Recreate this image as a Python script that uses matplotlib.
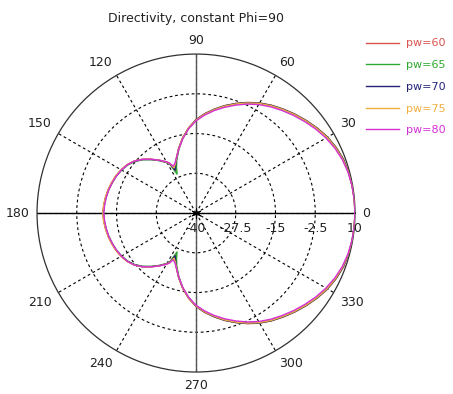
import numpy as np
import matplotlib
matplotlib.use("Agg")
import matplotlib.pyplot as plt

# pattern, upper half (0..180 deg), lower half is the mirror
angles_deg = [0, 5, 10, 15, 20, 25, 30, 35, 40, 45, 50, 55, 60, 65, 70, 75, 80, 85,
              90, 95, 100, 105, 110, 113, 116, 118, 120, 125, 130, 135, 140, 145,
              150, 155, 160, 165, 170, 175, 180]
pw60 = [10.0, 9.97, 9.87, 9.7, 9.4, 8.7, 7.8, 6.6, 5.3, 4.0, 2.7, 1.4, 0.0, -1.6,
        -3.3, -5.0, -6.8, -8.6, -10.6, -13.1, -15.9, -18.9, -21.8, -23.8, -25.6,
        -22.4, -21.5, -19.7, -17.9, -16.1, -14.6, -13.5, -12.8, -12.2, -11.8,
        -11.4, -11.1, -10.85, -10.7]
pw65 = [10.0, 9.97, 9.85, 9.65, 9.3, 8.6, 7.7, 6.5, 5.2, 3.9, 2.6, 1.3, -0.1, -1.7,
        -3.4, -5.1, -6.9, -8.8, -10.8, -13.3, -16.1, -19.2, -22.3, -24.3, -26.4,
        -22.8, -21.7, -19.9, -18.1, -16.3, -14.8, -13.7, -13.0, -12.4, -12.0,
        -11.6, -11.3, -11.05, -10.9]
pw70 = [10.0, 9.97, 9.85, 9.65, 9.3, 8.6, 7.7, 6.5, 5.2, 3.9, 2.6, 1.3, -0.1, -1.7,
        -3.4, -5.1, -6.9, -8.7, -10.7, -13.2, -16.0, -19.0, -22.0, -23.6, -25.0,
        -22.6, -21.6, -19.8, -18.0, -16.2, -14.7, -13.6, -12.9, -12.3, -11.9,
        -11.5, -11.2, -10.95, -10.8]
pw75 = [10.0, 9.96, 9.83, 9.6, 9.2, 8.5, 7.6, 6.4, 5.1, 3.8, 2.5, 1.2, -0.2, -1.8,
        -3.5, -5.2, -7.0, -8.8, -10.8, -13.2, -16.0, -19.0, -21.9, -23.3, -24.2,
        -22.4, -21.5, -19.7, -17.9, -16.1, -14.6, -13.5, -12.8, -12.2, -11.8,
        -11.4, -11.1, -10.85, -10.7]
pw80 = [10.0, 9.95, 9.8, 9.5, 9.0, 8.2, 7.2, 6.0, 4.7, 3.4, 2.1, 0.8, -0.6, -2.2,
        -3.9, -5.6, -7.3, -9.1, -11.0, -13.4, -16.2, -19.1, -21.8, -23.0, -23.6,
        -22.2, -21.4, -19.7, -17.9, -16.1, -14.6, -13.6, -12.9, -12.4, -12.0,
        -11.6, -11.35, -11.15, -11.0]

series = [("pw=60", pw60, "#d9534f"),
          ("pw=65", pw65, "#2ea82e"),
          ("pw=70", pw70, "#23237a"),
          ("pw=75", pw75, "#f0b040"),
          ("pw=80", pw80, "#d62fd6")]

r_ticks = [-27.5, -15, -2.5]
r_labels = ["-40", "-27.5", "-15", "-2.5", "10"]
r_label_vals = [-40, -27.5, -15, -2.5, 10]
theta_labels = list(range(0, 360, 30))

fig = plt.figure(figsize=(4.53, 3.94), dpi=100)
ax = fig.add_axes([0.0817, 0.0558, 0.702, 0.807], projection="polar")
ax.set_ylim(-40, 10)

ax.set_thetagrids(theta_labels, labels=[])
ax.set_rgrids(r_ticks, labels=[])
ax.grid(True, color="black", linestyle=(0, (2.5, 2.5)), linewidth=0.8)
ax.spines["polar"].set_color("#303030")
ax.spines["polar"].set_linewidth(0.9)

# axis lines through the centre
ax.plot([0, 0], [-40, 10], color="black", lw=1.0, zorder=2)
ax.plot([np.pi, np.pi], [-40, 10], color="black", lw=1.0, zorder=2)
ax.plot([np.pi / 2, np.pi / 2], [-40, 10], color="#555555", lw=1.0, zorder=2)
ax.plot([3 * np.pi / 2, 3 * np.pi / 2], [-40, 10], color="#555555", lw=1.0, zorder=2)
ax.plot([0], [-40], marker=(6, 2, 0), color="black", ms=7, mew=0.8, zorder=3)

th_half = np.deg2rad(angles_deg)
for name, vals, col in series:
    th = np.concatenate([th_half, -th_half[::-1]])
    rr = np.concatenate([vals, vals[::-1]])
    ax.plot(th, rr, color=col, lw=1.0, label=name, zorder=4)

# angle labels
for a in theta_labels:
    t = np.deg2rad(a)
    c, s = np.cos(t), np.sin(t)
    ha = "left" if c > 0.1 else ("right" if c < -0.1 else "center")
    va = "bottom" if s > 0.1 else ("top" if s < -0.1 else "center")
    ax.text(t, 12.3, str(a), ha=ha, va=va, fontsize=9, color="#222222",
            clip_on=False)

# radial labels under the 0 deg axis
for lab, v in zip(r_labels, r_label_vals):
    ax.annotate(lab, xy=(0, v), xytext=(0, -15), textcoords="offset pixels",
                ha="center", va="center", fontsize=9, color="#222222",
                annotation_clip=False)

ax.set_title("Directivity, constant Phi=90", fontsize=9, color="#222222",
             pad=23)

fig.legend(loc="upper left", bbox_to_anchor=(366 / 453, 1 - 38.5 / 394),
           frameon=False, fontsize=8, handlelength=3.0, handletextpad=0.6,
           labelspacing=1.05, borderpad=0, borderaxespad=0,
           labelcolor="linecolor")

fig.savefig("out.png", dpi=100)
